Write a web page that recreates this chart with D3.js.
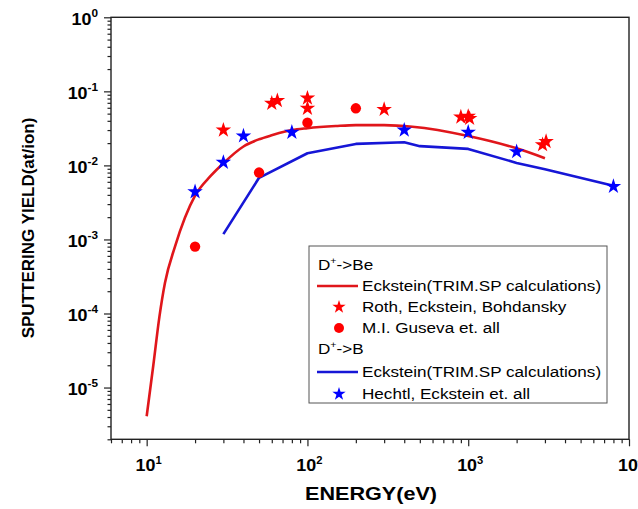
<!DOCTYPE html>
<html><head><meta charset="utf-8">
<script src="https://cdn.jsdelivr.net/npm/d3@7"></script>
<style>body{margin:0;background:#fff}svg{display:block}text{font-family:Arial,"Liberation Sans",sans-serif}</style>
</head><body><svg id="c" width="638" height="509"></svg>
<script>
// Eckstein TRIM.SP, D+ -> Be
const beCalcE = [10, 11, 12, 13, 15, 20, 25, 30, 40, 50, 60, 80, 100, 150, 200, 300, 450, 1000, 2000, 3000];
const beCalcY = [4.1e-6, 2.0e-5, 9.0e-5, 2.6e-4, 8.0e-4, 3.9e-3, 7.2e-3, 0.0107, 0.018, 0.0225, 0.0255, 0.030, 0.0318, 0.034, 0.035, 0.035, 0.0333, 0.025, 0.017, 0.0125];
// Roth, Eckstein, Bohdansky (D+ -> Be)
const rothE = [30, 60, 65, 100, 100, 300, 900, 1000, 1020, 2900, 3050];
const rothY = [0.030, 0.069, 0.075, 0.081, 0.059, 0.057, 0.045, 0.046, 0.043, 0.019, 0.021];
// M.I. Guseva (D+ -> Be)
const gusevaE = [20, 50, 100, 200];
const gusevaY = [8.0e-4, 8.0e-3, 0.0378, 0.059];
// Eckstein TRIM.SP, D+ -> B
const bCalcE = [30, 50, 100, 200, 400, 500, 1000, 2000, 3000, 8000];
const bCalcY = [1.18e-3, 6.8e-3, 0.0146, 0.0195, 0.0205, 0.0182, 0.0167, 0.0108, 0.0089, 0.0053];
// Hechtl, Eckstein (D+ -> B)
const hechtlE = [20, 30, 40, 80, 400, 1000, 2000, 8000];
const hechtlY = [4.4e-3, 0.011, 0.025, 0.028, 0.030, 0.028, 0.0153, 0.0052];
// tick exponents
const xExps = [1, 2, 3, 4];
const yExps = [0, -1, -2, -3, -4, -5];

const svg = d3.select("#c");
const L = 111, R = 629, T = 17.3, B = 439.3;
const x = d3.scaleLog().domain([6, 10000]).range([L, R]);
const y = d3.scaleLog().domain([2e-6, 1]).range([B, T]);

const RED_L = "#e0161b", RED_M = "#ff0000", BLUE_L = "#1616d6", BLUE_M = "#0000ff";

// stretched text helper (reference glyphs are horizontally wider)
function stext(parent, px, py, sx) {
  return parent.append("text").attr("transform", `translate(${px},${py}) scale(${sx},1)`);
}

// frame
svg.append("rect").attr("x", L).attr("y", T).attr("width", R - L).attr("height", B - T)
  .attr("fill", "none").attr("stroke", "#222").attr("stroke-width", 1.4);

// minor ticks
const xMinor = [], yMinor = [];
for (let e = 0; e <= 3; e++) for (let m = 2; m <= 9; m++) { const v = m * 10 ** e; if (v >= 6 && v <= 10000) xMinor.push(v); }
for (let e = -6; e <= -1; e++) for (let m = 2; m <= 9; m++) { const v = m * 10 ** e; if (v >= 2e-6 && v <= 1) yMinor.push(v); }

const gx = svg.append("g").attr("transform", `translate(0,${B})`);
gx.call(d3.axisBottom(x).tickValues(xMinor).tickSize(4).tickFormat(""));
gx.append("g").call(d3.axisBottom(x).tickValues(xExps.map(e => 10 ** e)).tickSize(7).tickFormat(""));
const gy = svg.append("g").attr("transform", `translate(${L},0)`);
gy.call(d3.axisLeft(y).tickValues(yMinor).tickSize(3.5).tickFormat(""));
gy.append("g").call(d3.axisLeft(y).tickValues(yExps.map(e => 10 ** e)).tickSize(7).tickFormat(""));
svg.selectAll(".domain").remove();
svg.selectAll(".tick line").attr("stroke", "#222").attr("stroke-width", 1.2);

// tick labels
xExps.forEach(e => {
  const t = stext(svg, x(10 ** e) + 2, 471, 1.12).attr("text-anchor", "middle")
    .attr("font-size", 16).attr("font-weight", "bold");
  t.append("tspan").text("10");
  t.append("tspan").attr("dy", -7).attr("font-size", 10).text(e);
});
yExps.forEach(e => {
  const t = stext(svg, 98, y(10 ** e) + 7.3, 1.12).attr("text-anchor", "end")
    .attr("font-size", 16).attr("font-weight", "bold");
  t.append("tspan").text("10");
  t.append("tspan").attr("dy", -7.5).attr("font-size", 10.5).text(e);
});

// axis titles
stext(svg, 371, 500, 1.2).attr("text-anchor", "middle")
  .attr("font-size", 18).attr("font-weight", "bold").text("ENERGY(eV)");
svg.append("text").attr("transform", "translate(34,228) rotate(-90)").attr("text-anchor", "middle")
  .attr("font-size", 17).attr("font-weight", "bold").text("SPUTTERING YIELD(at/ion)");

const line = d3.line().x(d => x(d[0])).y(d => y(d[1]));
const smooth = d3.line().x(d => x(d[0])).y(d => y(d[1])).curve(d3.curveMonotoneX);
svg.append("path").datum(beCalcE.map((e, i) => [e, beCalcY[i]])).attr("d", smooth)
  .attr("fill", "none").attr("stroke", RED_L).attr("stroke-width", 2.6).attr("stroke-linejoin", "round");
svg.append("path").datum(bCalcE.map((e, i) => [e, bCalcY[i]])).attr("d", line)
  .attr("fill", "none").attr("stroke", BLUE_L).attr("stroke-width", 2.6).attr("stroke-linejoin", "round");

const star = d3.symbol().type(d3.symbolStar).size(75);
svg.append("g").selectAll("path").data(rothE.map((e, i) => [e, rothY[i]])).join("path")
  .attr("d", star).attr("transform", d => `translate(${x(d[0])},${y(d[1])})`).attr("fill", RED_M);
svg.append("g").selectAll("circle").data(gusevaE.map((e, i) => [e, gusevaY[i]])).join("circle")
  .attr("cx", d => x(d[0])).attr("cy", d => y(d[1])).attr("r", 5.2).attr("fill", RED_M);
svg.append("g").selectAll("path").data(hechtlE.map((e, i) => [e, hechtlY[i]])).join("path")
  .attr("d", star).attr("transform", d => `translate(${x(d[0])},${y(d[1])})`).attr("fill", BLUE_M);

// legend
const lg = svg.append("g");
lg.append("rect").attr("x", 309).attr("y", 246).attr("width", 298).attr("height", 157)
  .attr("fill", "#fff").attr("stroke", "#555").attr("stroke-width", 1);
const fs = 14.5, sx = 1.18;
function header(yy, tgt) {
  const t = stext(lg, 318, yy, sx).attr("font-size", fs);
  t.append("tspan").text("D");
  t.append("tspan").attr("dy", -6).attr("font-size", 9).text("+");
  t.append("tspan").attr("dy", 6).text("->" + tgt);
}
function entry(yy, label, kind, col) {
  const cy = yy - 5;
  if (kind === "line") lg.append("line").attr("x1", 317).attr("x2", 358).attr("y1", cy).attr("y2", cy)
    .attr("stroke", col).attr("stroke-width", 2.6);
  else if (kind === "star") lg.append("path").attr("d", d3.symbol().type(d3.symbolStar).size(55))
    .attr("transform", `translate(339,${cy})`).attr("fill", col);
  else lg.append("circle").attr("cx", 339).attr("cy", cy).attr("r", 5).attr("fill", col);
  stext(lg, 362, yy, sx).attr("font-size", fs).text(label);
}
header(270, "Be");
entry(291, "Eckstein(TRIM.SP calculations)", "line", RED_L);
entry(312, "Roth, Eckstein, Bohdansky", "star", RED_M);
entry(333, "M.I. Guseva et. all", "circle", RED_M);
header(354, "B");
entry(377, "Eckstein(TRIM.SP calculations)", "line", BLUE_L);
entry(399, "Hechtl, Eckstein et. all", "star", BLUE_M);
</script></body></html>
